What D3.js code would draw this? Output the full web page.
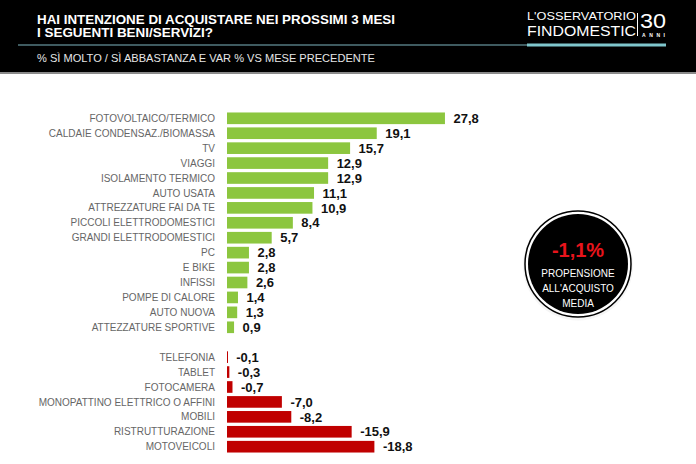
<!DOCTYPE html>
<html>
<head>
<meta charset="utf-8">
<script src="https://cdn.jsdelivr.net/npm/d3@7"></script>
<style>
  html, body { margin: 0; padding: 0; background: #fff; }
  svg { display: block; font-family: "Liberation Sans", Arial, Helvetica, sans-serif; }
</style>
</head>
<body>
<svg id="chart" width="696" height="464"></svg>
<script>
const positiveCategories = [
  "FOTOVOLTAICO/TERMICO", "CALDAIE CONDENSAZ./BIOMASSA", "TV", "VIAGGI",
  "ISOLAMENTO TERMICO", "AUTO USATA", "ATTREZZATURE FAI DA TE",
  "PICCOLI ELETTRODOMESTICI", "GRANDI ELETTRODOMESTICI", "PC", "E BIKE",
  "INFISSI", "POMPE DI CALORE", "AUTO NUOVA", "ATTEZZATURE SPORTIVE"
];
const positiveValues = [27.8, 19.1, 15.7, 12.9, 12.9, 11.1, 10.9, 8.4, 5.7, 2.8, 2.8, 2.6, 1.4, 1.3, 0.9];
const negativeCategories = [
  "TELEFONIA", "TABLET", "FOTOCAMERA", "MONOPATTINO ELETTRICO O AFFINI",
  "MOBILI", "RISTRUTTURAZIONE", "MOTOVEICOLI"
];
const negativeValues = [-0.1, -0.3, -0.7, -7.0, -8.2, -15.9, -18.8];
const titleLines = ["HAI INTENZIONE DI ACQUISTARE NEI PROSSIMI 3 MESI", "I SEGUENTI BENI/SERVIZI?"];
const subtitle = "% SÌ MOLTO / SÌ ABBASTANZA E VAR % VS MESE PRECEDENTE";
const badgeValue = "-1,1%";
const badgeLines = ["PROPENSIONE", "ALL'ACQUISTO", "MEDIA"];

const svg = d3.select("#chart");
const fmt = v => d3.format(".1f")(v).replace(".", ",").replace("−", "-");

// Header
svg.append("rect").attr("x", 0).attr("y", 0).attr("width", 696).attr("height", 72).attr("fill", "#000");
svg.append("rect").attr("x", 0).attr("y", 72).attr("width", 696).attr("height", 2).attr("fill", "#8a8a8a");
svg.append("rect").attr("x", 18).attr("y", 44).attr("width", 509).attr("height", 2).attr("fill", "#3f5b60");
svg.append("rect").attr("x", 527).attr("y", 43.5).attr("width", 139).attr("height", 3).attr("fill", "#7fc6cc");

const titleWidths = [358, 176];
titleLines.forEach((t, i) => {
  svg.append("text").attr("x", 37).attr("y", 24 + i * 13.3)
    .attr("fill", "#fff").attr("font-weight", "bold").attr("font-size", 12.5)
    .attr("textLength", titleWidths[i]).attr("lengthAdjust", "spacingAndGlyphs")
    .text(t);
});
svg.append("text").attr("x", 37).attr("y", 61.5)
  .attr("fill", "#e6e6e6").attr("font-size", 10.5)
  .attr("textLength", 338).attr("lengthAdjust", "spacingAndGlyphs")
  .text(subtitle);

// Logo
svg.append("text").attr("x", 527).attr("y", 20).attr("fill", "#fff").attr("font-size", 10)
  .attr("textLength", 109).attr("lengthAdjust", "spacingAndGlyphs").text("L'OSSERVATORIO");
svg.append("text").attr("x", 527).attr("y", 35.5).attr("fill", "#fff").attr("font-size", 14)
  .attr("textLength", 109).attr("lengthAdjust", "spacingAndGlyphs").text("FINDOMESTIC");
svg.append("rect").attr("x", 637).attr("y", 13).attr("width", 1).attr("height", 23).attr("fill", "#fff");
svg.append("text").attr("x", 640).attr("y", 28).attr("fill", "#fff").attr("font-size", 20)
  .attr("textLength", 26).attr("lengthAdjust", "spacingAndGlyphs").text("30");
svg.append("text").attr("x", 642).attr("y", 36.5).attr("fill", "#fff").attr("font-size", 5).attr("font-weight", "bold")
  .attr("textLength", 23).attr("lengthAdjust", "spacing").text("ANNI");

// Chart
const spacer = "__spacer__";
const rows = [
  ...positiveCategories.map((c, i) => ({ cat: c, value: positiveValues[i] })),
  { cat: spacer, value: null },
  ...negativeCategories.map((c, i) => ({ cat: c, value: negativeValues[i] }))
];
const y = d3.scalePoint().domain(rows.map(r => r.cat)).range([118.3, 446.7]);
const barH = y.step() * 0.78;
const x = d3.scaleLinear().domain([0, 30]).range([227, 462.2]);

const data = rows.filter(r => r.value !== null);
const g = svg.append("g");

g.selectAll("rect.bar").data(data).join("rect")
  .attr("class", "bar")
  .attr("x", x(0))
  .attr("y", d => y(d.cat) - barH / 2)
  .attr("width", d => Math.max(x(Math.abs(d.value)) - x(0), 1))
  .attr("height", barH)
  .attr("fill", d => d.value >= 0 ? "#8cc63f" : "#c00000");

g.selectAll("text.cat").data(data).join("text")
  .attr("class", "cat")
  .attr("x", 215)
  .attr("y", d => y(d.cat) + 3.6)
  .attr("text-anchor", "end")
  .attr("font-size", 10)
  .attr("fill", "#666")
  .text(d => d.cat);

g.selectAll("text.val").data(data).join("text")
  .attr("class", "val")
  .attr("x", d => x(Math.max(Math.abs(d.value), 0.1)) + 8.5)
  .attr("y", d => y(d.cat) + 4.7)
  .attr("font-size", 13)
  .attr("font-weight", "bold")
  .attr("fill", "#111")
  .text(d => fmt(d.value));

// Badge
const cx = 578, cy = 264;
svg.append("circle").attr("cx", cx).attr("cy", cy + 1.5).attr("r", 55).attr("fill", "#eee").attr("opacity", 0.6);
svg.append("circle").attr("cx", cx).attr("cy", cy).attr("r", 53).attr("fill", "#fff").attr("stroke", "#000").attr("stroke-width", 1.5);
svg.append("circle").attr("cx", cx).attr("cy", cy).attr("r", 50).attr("fill", "#000");
svg.append("text").attr("x", cx).attr("y", cy - 7).attr("text-anchor", "middle")
  .attr("fill", "#e8141c").attr("font-weight", "bold").attr("font-size", 20).text(badgeValue);
badgeLines.forEach((t, i) => {
  svg.append("text").attr("x", cx).attr("y", cy + 13 + i * 15).attr("text-anchor", "middle")
    .attr("fill", "#fff").attr("font-size", 10).text(t);
});
</script>
</body>
</html>
